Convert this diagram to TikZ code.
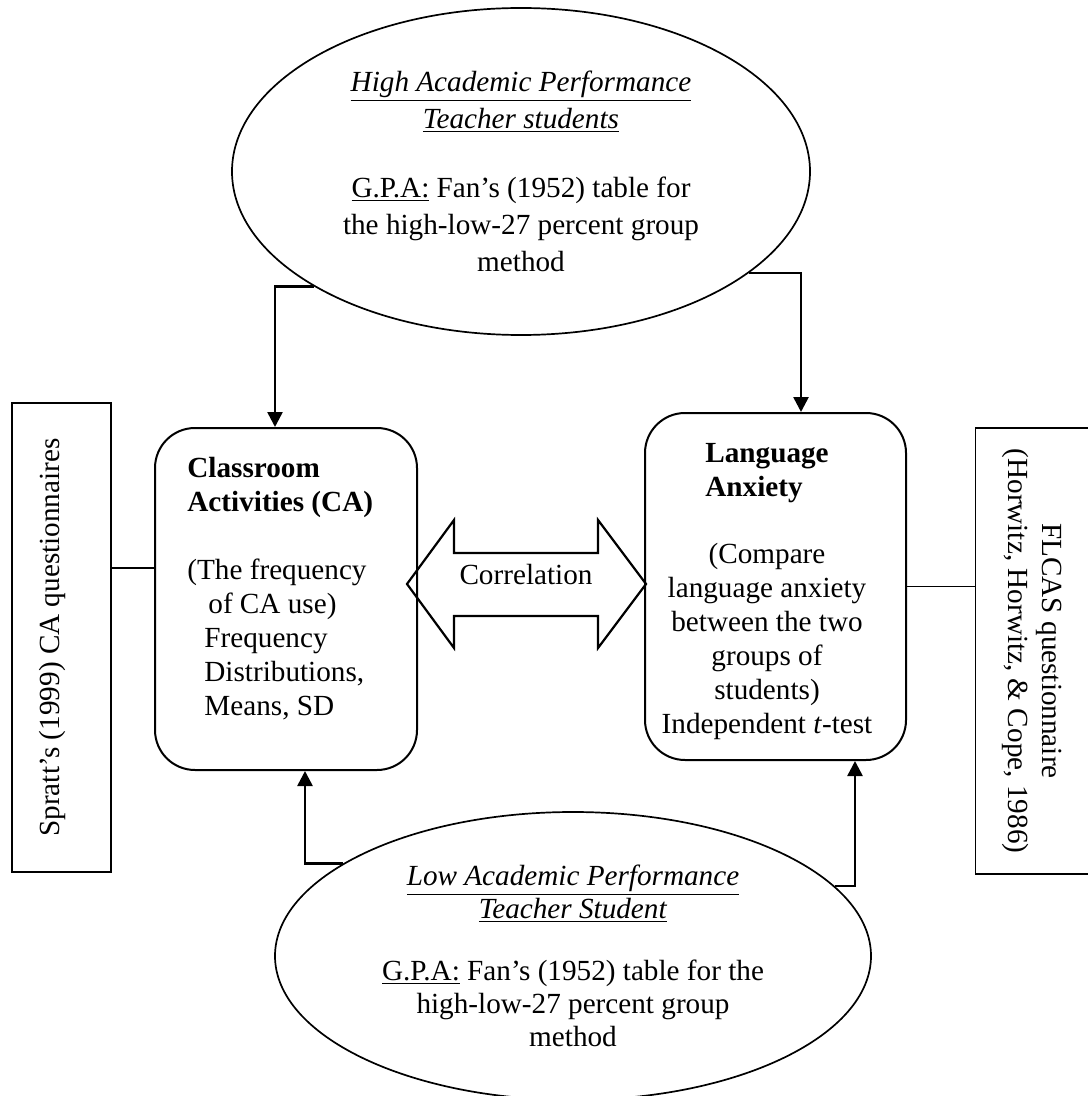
\documentclass[tikz,border=0pt]{standalone}
\usepackage{fontspec}
\setmainfont{Liberation Serif}
\usepackage{tikz}
\usetikzlibrary{arrows.meta, shapes.geometric}
\tikzset{
    oval/.style={ellipse, draw, line width=0.85pt, inner sep=0pt, align=center},
    roundbox/.style={rectangle, rounded corners=20pt, draw, line width=1pt, inner sep=0pt},
    sidebox/.style={rectangle, draw, line width=0.8pt, inner sep=0pt, align=center},
    boxtxt/.style={inner sep=0pt},
    feed/.style={-{Triangle[width=7.5pt,length=7.5pt]}, line width=1.3pt},
    link/.style={line width=0.7pt},
    twoway/.style={line width=1.1pt, line join=miter}
}

\begin{document}
\begin{tikzpicture}[x=0.5pt, y=-0.5pt, font=\fontsize{14.6}{17}\selectfont]
    \path[use as bounding box, fill=white] (0,0) rectangle (1087,1096);
    \node[oval, minimum width=289pt, minimum height=163.5pt, font=\fontsize{14.6}{18.5}\selectfont] (high) at (521,171.5)
        {\underline{\textit{High Academic Performance}}\\\underline{\textit{Teacher students}}\\[16pt]\underline{G.P.A:} Fan’s (1952) table for\\the high-low-27 percent group\\method};
    \node[oval, minimum width=298pt, minimum height=144pt, font=\fontsize{14.6}{16.5}\selectfont] (low) at (573,956)
        {\underline{\textit{Low Academic Performance}}\\\underline{\textit{Teacher Student}}\\[14.5pt]\underline{G.P.A:} Fan’s (1952) table for the\\high-low-27 percent group\\method};
    \node[roundbox, minimum width=131pt, minimum height=171pt] (ca) at (286,599) {};
    \node[roundbox, minimum width=130.5pt, minimum height=173.5pt] (la) at (775.5,586.5) {};
    \node[boxtxt, anchor=north west, align=left] (catext) at (187,457)
        {\textbf{Classroom}\\\textbf{Activities (CA)}\\[17pt](The frequency\\\hspace*{10.5pt}of CA use)\\\hspace*{8.5pt}Frequency\\\hspace*{8.5pt}Distributions,\\\hspace*{8.5pt}Means, SD};
    \node[boxtxt, anchor=north, align=center] (latext) at (767,443)
        {\textbf{Language}\\\rlap{\textbf{Anxiety}}\phantom{\textbf{Language}}\\[16.5pt](Compare\\language anxiety\\between the two\\groups of\\students)\\Independent \textit{t}-test};
    \node[sidebox, minimum width=49.5pt, minimum height=234.5pt] (spr) at (61.5,637.5) {};
    \node[boxtxt, rotate=90] (sprtext) at (52,637.5) {Spratt’s (1999) CA questionnaires};
    \node[sidebox, rotate=-90, minimum width=223pt, minimum height=56.5pt] (fl) at (1032,651) {FLCAS questionnaire\\(Horwitz, Horwitz, \& Cope, 1986)};
    \draw[twoway] (407,584) -- (454,520) -- (454,553) -- (598,553) -- (598,520) -- (646,584)
        -- (598,648) -- (598,616) -- (454,616) -- (454,648) -- cycle;
    \node[boxtxt] (cor) at (526,575) {Correlation};
    \draw[feed] (high.209) -| ([xshift=-5.5pt]ca.north);
    \draw[feed] (high.336) -| ([xshift=12.75pt]la.north);
    \draw[feed] (low.158) -| ([xshift=9.5pt]ca.south);
    \draw[feed] (low.15) -| ([xshift=39.75pt]la.south);
    \draw[link] ([yshift=15.5pt]ca.west) -- ([yshift=15.5pt]ca.west -| spr.east);
    \draw[link] (la.east) -- (la.east -| fl.south);
\end{tikzpicture}
\end{document}
